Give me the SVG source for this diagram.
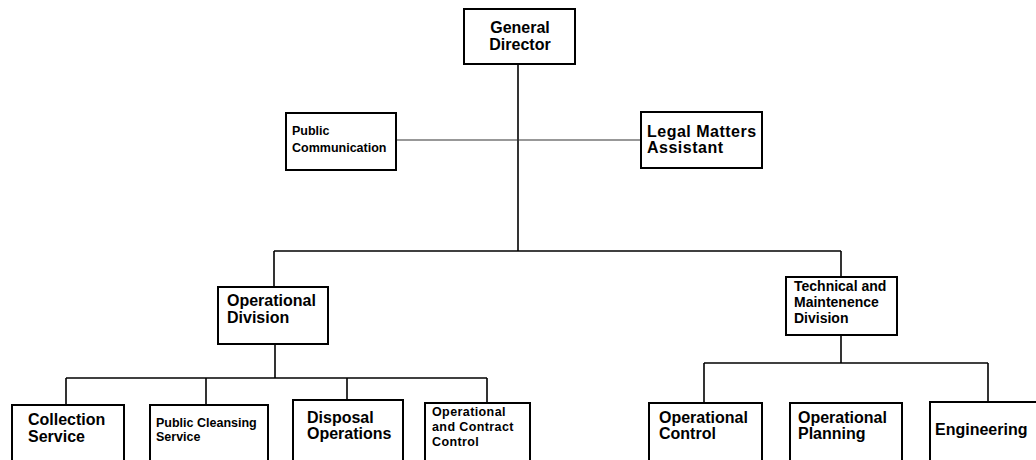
<svg xmlns="http://www.w3.org/2000/svg" width="1036" height="460" viewBox="0 0 1036 460">
<style>
.box{fill:#fff;stroke:#000;stroke-width:2}
.ln{fill:none;stroke:#000;stroke-width:1.6}
.thin{fill:none;stroke:#333;stroke-width:1.2}
text{font-family:"Liberation Sans",Arial,sans-serif;font-weight:bold;fill:#000}
.l{font-size:16px}
.m{font-size:14px}
.t{font-size:12.5px}
.s{font-size:12.5px}
</style>
<g id="connectors">
<line class="ln" x1="518" y1="64" x2="518" y2="251"/>
<line class="thin" x1="396" y1="140" x2="641" y2="140"/>
<line class="ln" x1="274" y1="251" x2="841" y2="251"/>
<line class="ln" x1="274" y1="251" x2="274" y2="287"/>
<line class="ln" x1="841" y1="251" x2="841" y2="277"/>
<line class="ln" x1="275" y1="344" x2="275" y2="378"/>
<line class="ln" x1="66" y1="378" x2="487" y2="378"/>
<line class="ln" x1="66" y1="378" x2="66" y2="405"/>
<line class="ln" x1="206" y1="378" x2="206" y2="405"/>
<line class="ln" x1="347" y1="378" x2="347" y2="400"/>
<line class="ln" x1="487" y1="378" x2="487" y2="403"/>
<line class="ln" x1="841" y1="335" x2="841" y2="363"/>
<line class="ln" x1="704" y1="363" x2="988" y2="363"/>
<line class="ln" x1="704" y1="363" x2="704" y2="403"/>
<line class="ln" x1="988" y1="363" x2="988" y2="402"/>
</g>
<g id="general-director">
<rect class="box" x="464" y="9" width="111" height="55"/>
<text class="l" x="520" y="33" text-anchor="middle">General</text>
<text class="l" x="520" y="50" text-anchor="middle">Director</text>
</g>
<g id="public-communication">
<rect class="box" x="286" y="113" width="110" height="57"/>
<text class="s" x="292" y="135">Public</text>
<text class="s" x="292" y="152">Communication</text>
</g>
<g id="legal-matters">
<rect class="box" x="641" y="112" width="121" height="56"/>
<text class="l" x="647" y="137" letter-spacing="0.5">Legal Matters</text>
<text class="l" x="647" y="153" letter-spacing="0.5">Assistant</text>
</g>
<g id="operational-division">
<rect class="box" x="218" y="287" width="110" height="57"/>
<text class="l" x="227" y="306">Operational</text>
<text class="l" x="227" y="323">Division</text>
</g>
<g id="technical-maintenance">
<rect class="box" x="786" y="277" width="111" height="58"/>
<text class="m" x="794" y="291">Technical and</text>
<text class="m" x="794" y="307">Maintenence</text>
<text class="m" x="794" y="323">Division</text>
</g>
<g id="collection-service">
<rect class="box" x="12" y="405" width="112" height="70"/>
<text class="l" x="28" y="425">Collection</text>
<text class="l" x="28" y="442">Service</text>
</g>
<g id="public-cleansing">
<rect class="box" x="150" y="405" width="118" height="70"/>
<text class="s" x="156" y="427">Public Cleansing</text>
<text class="s" x="156" y="441">Service</text>
</g>
<g id="disposal-operations">
<rect class="box" x="293" y="400" width="110" height="75"/>
<text class="l" x="307" y="423">Disposal</text>
<text class="l" x="307" y="439">Operations</text>
</g>
<g id="operational-contract">
<rect class="box" x="425" y="403" width="105" height="72"/>
<text class="t" x="432" y="416" letter-spacing="0.4">Operational</text>
<text class="t" x="432" y="431" letter-spacing="0.4">and Contract</text>
<text class="t" x="432" y="446" letter-spacing="0.4">Control</text>
</g>
<g id="operational-control">
<rect class="box" x="649" y="403" width="113" height="72"/>
<text class="l" x="659" y="423">Operational</text>
<text class="l" x="659" y="439">Control</text>
</g>
<g id="operational-planning">
<rect class="box" x="790" y="403" width="112" height="72"/>
<text class="l" x="798" y="423">Operational</text>
<text class="l" x="798" y="439">Planning</text>
</g>
<g id="engineering">
<rect class="box" x="930" y="402" width="110" height="73"/>
<text class="l" x="935" y="435">Engineering</text>
</g>
</svg>
